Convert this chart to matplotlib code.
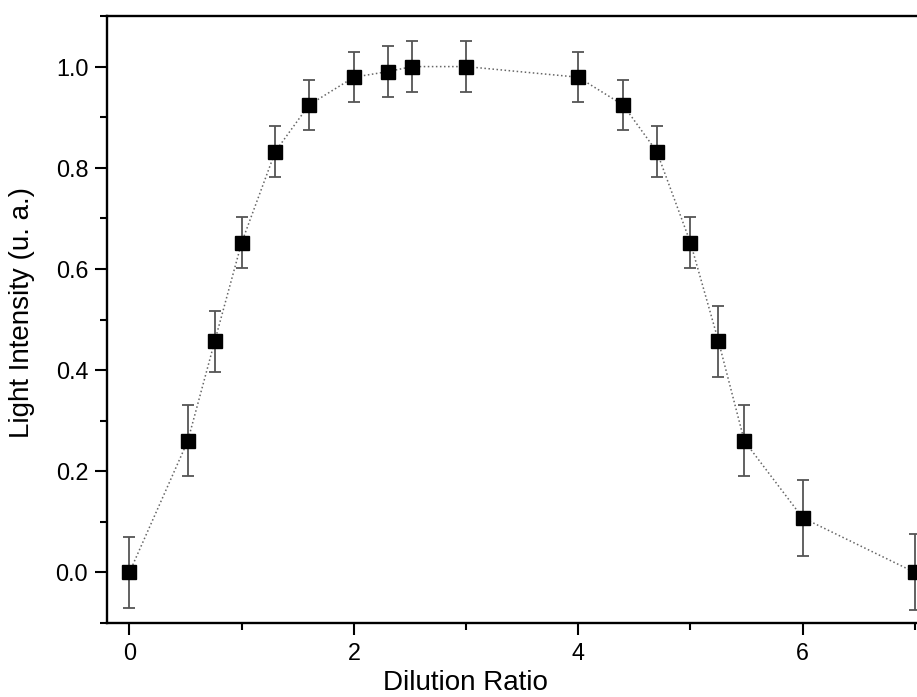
import numpy as np
import matplotlib
matplotlib.use("Agg")
import matplotlib.pyplot as plt
from matplotlib.ticker import MultipleLocator

plt.rcParams['font.family'] = ['Liberation Sans', 'DejaVu Sans']

# data
dilution = [0, 0.52, 0.76, 1.0, 1.3, 1.6, 2.0, 2.3, 2.52, 3.0,
            4.0, 4.4, 4.7, 5.0, 5.25, 5.48, 6.0, 7.0]
intensity = [0, 0.26, 0.457, 0.652, 0.832, 0.924, 0.979, 0.99, 1.0, 1.0,
             0.979, 0.924, 0.832, 0.652, 0.457, 0.26, 0.108, 0]
error = [0.07, 0.07, 0.06, 0.05, 0.05, 0.05, 0.05, 0.05, 0.05, 0.05,
         0.05, 0.05, 0.05, 0.05, 0.07, 0.07, 0.075, 0.075]

fig = plt.figure(figsize=(9.17, 6.97), dpi=100)
ax = fig.add_axes([107 / 917, 74 / 697, 7.4 * 112.2 / 917, 607 / 697])

# dotted connecting line
ax.plot(dilution, intensity, linestyle=':', color='#666666', linewidth=1.1, zorder=1)
# error bars and square markers
ax.errorbar(dilution, intensity, yerr=error, fmt='none', ecolor='#555555',
            elinewidth=1.3, capsize=4.5, capthick=1.3, zorder=2)
ax.plot(dilution, intensity, linestyle='none', marker='s', markersize=9.5,
        color='black', zorder=3)

ax.set_xlim(-0.2, 7.2)
ax.set_ylim(-0.1, 1.1)

ax.xaxis.set_major_locator(MultipleLocator(2))
ax.xaxis.set_minor_locator(MultipleLocator(1))
ax.yaxis.set_major_locator(MultipleLocator(0.2))
ax.yaxis.set_minor_locator(MultipleLocator(0.1))
ax.yaxis.set_major_formatter(matplotlib.ticker.FormatStrFormatter('%.1f'))

ax.tick_params(which='both', direction='out', width=1.5, top=False, right=False)
ax.tick_params(which='major', length=8.5, labelsize=16.8, pad=5)
ax.tick_params(which='minor', length=5)

for side in ['left', 'bottom', 'top', 'right']:
    ax.spines[side].set_linewidth(1.7)

ax.set_xlabel('Dilution Ratio', fontsize=20)
ax.set_ylabel('Light Intensity (u. a.)', fontsize=20)
ax.xaxis.set_label_coords(0.432, -0.077)
ax.yaxis.set_label_coords(-0.087, 0.512)

fig.savefig('out.png', dpi=100)
